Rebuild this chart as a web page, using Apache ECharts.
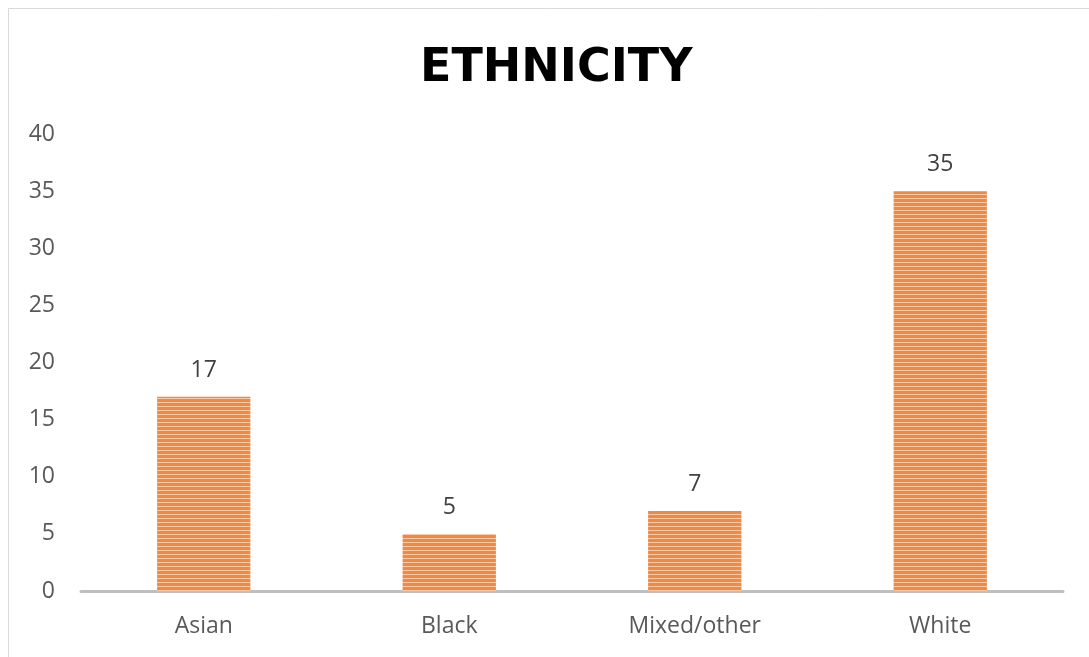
<!DOCTYPE html>
<html>
<head>
<meta charset="utf-8">
<style>
  html, body { margin: 0; padding: 0; background: #ffffff; }
  #chart { width: 1089px; height: 657px; }
</style>
<script src="https://cdn.jsdelivr.net/npm/echarts@6/dist/echarts.min.js"></script>
</head>
<body>
<div id="chart"></div>
<script>
// Survey counts by ethnicity
var categories = ['Asian', 'Black', 'Mixed/other', 'White'];
var counts = [17, 5, 7, 35];
var yTicks = { min: 0, max: 40, interval: 5 };

// Horizontal-stripe fill for the bars
function stripePattern() {
  var c = document.createElement('canvas');
  c.width = 8;
  c.height = 4;
  var ctx = c.getContext('2d');
  ctx.fillStyle = '#ee8a45';
  ctx.fillRect(0, 0, 8, 4);
  ctx.fillStyle = '#f8caa6';
  ctx.fillRect(0, 2, 8, 1);
  return c;
}

var chart = echarts.init(document.getElementById('chart'));
chart.setOption({
  animation: false,
  backgroundColor: '#ffffff',
  title: {
    text: 'ETHNICITY',
    left: 415,
    top: 41,
    textStyle: {
      fontFamily: 'DejaVu Sans',
      fontWeight: 'bold',
      fontSize: 46,
      color: '#000000'
    }
  },
  graphic: [{
    type: 'rect',
    shape: { x: 8.5, y: 8.5, width: 1100, height: 700 },
    style: { fill: 'none', stroke: '#d9d9d9', lineWidth: 1 },
    silent: true,
    z: -1
  }],
  grid: { left: 81, right: 26, top: 134, bottom: 66, containLabel: false },
  xAxis: {
    type: 'category',
    data: categories,
    axisLine: { lineStyle: { color: '#bfbfbf', width: 3 } },
    axisTick: { show: false },
    axisLabel: {
      margin: 24,
      fontFamily: 'Open Sans',
      fontSize: 23,
      color: '#595959'
    }
  },
  yAxis: {
    type: 'value',
    min: yTicks.min,
    max: yTicks.max,
    interval: yTicks.interval,
    splitLine: { show: false },
    axisLine: { show: false },
    axisTick: { show: false },
    axisLabel: {
      margin: 26,
      fontFamily: 'Open Sans',
      fontSize: 23,
      color: '#595959'
    }
  },
  series: [{
    type: 'bar',
    data: counts,
    barWidth: '38%',
    itemStyle: {
      color: { image: stripePattern(), repeat: 'repeat' }
    },
    label: {
      show: true,
      position: 'top',
      distance: 15,
      fontFamily: 'Open Sans',
      fontSize: 23,
      color: '#404040'
    }
  }]
});
</script>
</body>
</html>
